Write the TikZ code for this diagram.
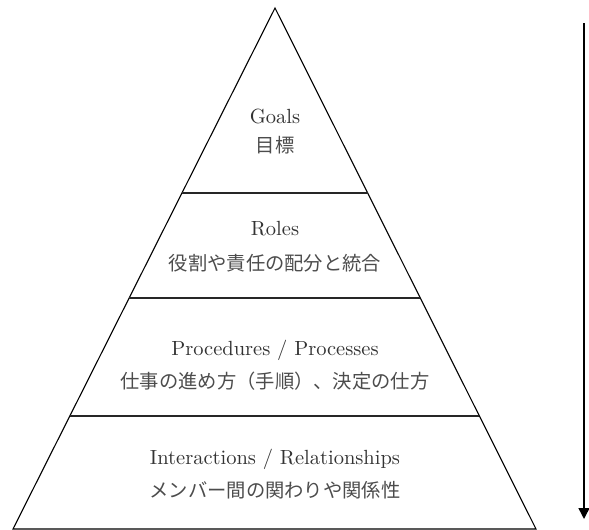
\documentclass[tikz,border=0pt]{standalone}
\usepackage{fontspec}
\newfontfamily\jp{Noto Sans CJK JP}
\newfontfamily\enfont{lmroman10-regular}[Extension=.otf]
\usetikzlibrary{arrows.meta,calc}
\tikzset{
  en/.style={anchor=base, text=black!80, font=\enfont\fontsize{20.5}{24}\selectfont, inner sep=0pt},
  ja/.style={anchor=base, text=black!70, font=\jp\fontsize{19.3}{22}\selectfont, inner sep=0pt},
  edge/.style={line width=1.1pt, black},
  sep/.style={line width=1.1pt, black!85},
  flow/.style={line width=1.5pt, -{Triangle[width=11pt,length=11pt]}}
}
\begin{document}
\begin{tikzpicture}[x=1pt,y=-1pt]
\useasboundingbox (0,0) rectangle (589,530);
\coordinate (apex) at (275,8);
\coordinate (bl) at (13,529);
\coordinate (br) at (536,529);
\draw[edge, line join=miter] (apex) -- (bl) -- (br) -- cycle;
% separators
\coordinate (s1l) at ($(apex)!0.3551!(bl)$);
\coordinate (s1r) at ($(apex)!0.3551!(br)$);
\coordinate (s2l) at ($(apex)!0.5566!(bl)$);
\coordinate (s2r) at ($(apex)!0.5566!(br)$);
\coordinate (s3l) at ($(apex)!0.7831!(bl)$);
\coordinate (s3r) at ($(apex)!0.7831!(br)$);
\draw[sep] (s1l) -- (s1r);
\draw[sep] (s2l) -- (s2r);
\draw[sep] (s3l) -- (s3r);
% labels
\node[en] (goals) at (275,123) {Goals};
\node[ja] (goalsj) at (275,152) {目標};
\node[en] (roles) at (275,235) {Roles};
\node[ja] (rolesj) at (275,270) {役割や責任の配分と統合};
\node[en] (proc) at (275,355) {Procedures / Processes};
\node[ja] (procj) at (275,388) {仕事の進め方（手順）、決定の仕方};
\node[en] (inter) at (275,464) {Interactions / Relationships};
\node[ja] (interj) at (275,497) {メンバー間の関わりや関係性};
% arrow
\coordinate (atop) at (584,23);
\coordinate (abot) at (584,519);
\draw[flow] (atop) -- (abot);
\end{tikzpicture}
\end{document}
